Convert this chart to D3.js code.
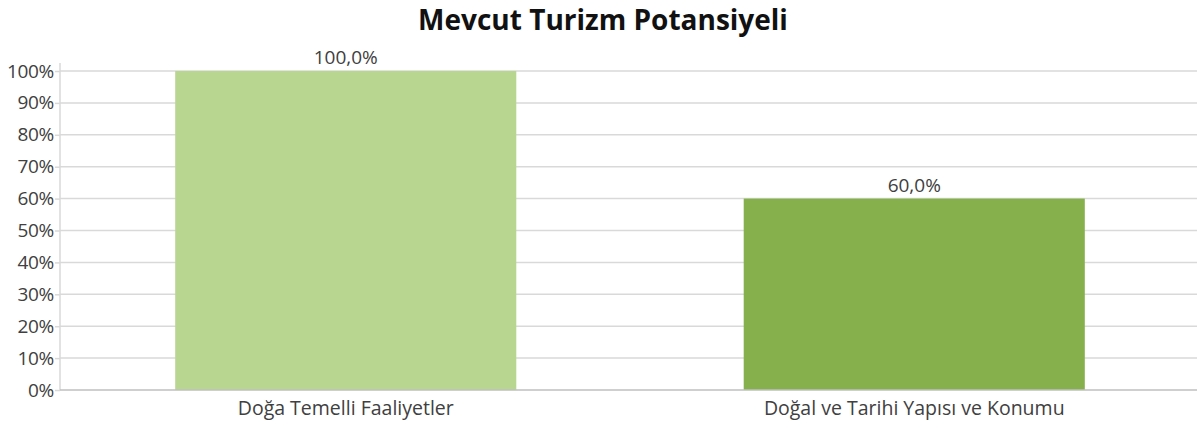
<!DOCTYPE html>
<html><head><meta charset="utf-8">
<script src="https://cdn.jsdelivr.net/npm/d3@7"></script>
<style>body{margin:0;background:#fff}svg{display:block}</style>
</head><body>
<svg id="c" width="1197" height="428"></svg>
<script>
const title = "Mevcut Turizm Potansiyeli";
const categories = ["Doğa Temelli Faaliyetler", "Doğal ve Tarihi Yapısı ve Konumu"];
const values = [1.0, 0.6];
const barColors = ["#b9d690", "#86b04b"];
const yTicks = [0,0.1,0.2,0.3,0.4,0.5,0.6,0.7,0.8,0.9,1.0];

const svg = d3.select("#c");
const W = 1197, H = 428;
const m = {l:60, r:0, t:71, b:38};
const font = "'Open Sans', 'Noto Sans', sans-serif";

const x = d3.scaleBand().domain(categories).range([m.l + 1.5, W - m.r + 1.5]).paddingInner(0.4).paddingOuter(0.2);
const y = d3.scaleLinear().domain([0,1]).range([H - m.b, m.t]);

svg.append("text").attr("x", 603).attr("y", 30).attr("text-anchor","middle")
  .attr("font-family", font).attr("font-weight", 700).attr("font-size", 28).attr("fill", "#111")
  .text(title);

// gridlines
svg.append("g").selectAll("line").data(yTicks.slice(1)).join("line")
  .attr("x1", m.l).attr("x2", W).attr("y1", d => y(d)).attr("y2", d => y(d))
  .attr("stroke", "#d9d9d9").attr("stroke-width", 1.5);

// y axis
const ya = svg.append("g").attr("transform", `translate(${m.l},0)`)
  .call(d3.axisLeft(y).tickValues(yTicks).tickFormat(d3.format(".0%")).tickSize(5).tickPadding(1));
ya.select(".domain").remove();
ya.selectAll(".tick line").attr("stroke", "#d9d9d9").attr("stroke-width", 1.5);
ya.selectAll("text").attr("font-family", font).attr("font-size", 19).attr("fill", "#404040")
  .attr("letter-spacing", -0.3);
svg.append("line").attr("x1", m.l).attr("x2", m.l).attr("y1", y(1) - 8).attr("y2", y(0))
  .attr("stroke", "#d9d9d9").attr("stroke-width", 1.5);

// bars
svg.append("g").selectAll("rect").data(categories).join("rect")
  .attr("x", d => x(d)).attr("width", x.bandwidth())
  .attr("y", (d,i) => y(values[i])).attr("height", (d,i) => y(0) - y(values[i]))
  .attr("fill", (d,i) => barColors[i]);

// x axis
const xa = svg.append("g").attr("transform", `translate(0,${y(0)})`)
  .call(d3.axisBottom(x).tickSize(0).tickPadding(11));
xa.select(".domain").attr("stroke", "#bfbfbf").attr("stroke-width", 1.5).attr("d", `M${m.l},0H${W}`);
xa.selectAll("text").attr("font-family", font).attr("font-size", 19.5).attr("fill", "#404040");

// labels
const fmt = v => (v*100).toFixed(1).replace(".", ",") + "%";
svg.append("g").selectAll("text").data(categories).join("text")
  .attr("x", d => x(d) + x.bandwidth()/2).attr("y", (d,i) => y(values[i]) - 7)
  .attr("text-anchor", "middle").attr("font-family", font).attr("font-size", 19).attr("fill", "#404040")
  .text((d,i) => fmt(values[i]));
</script>
</body></html>
